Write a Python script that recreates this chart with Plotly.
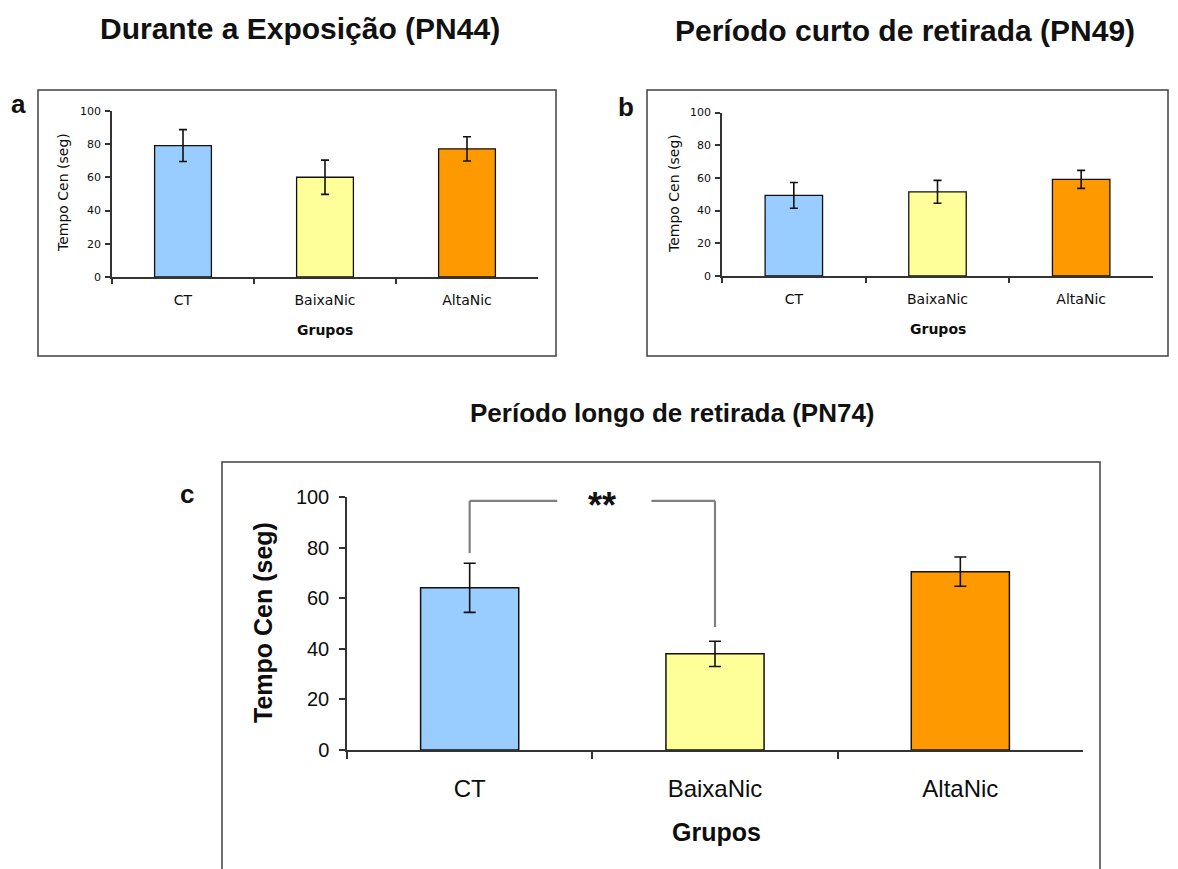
import plotly.graph_objects as go

W, H = 1178, 869

# ---- data ----
groups = ["CT", "BaixaNic", "AltaNic"]
bar_colors = ["#99CCFF", "#FFFF99", "#FF9900"]

pn44_mean = [79.2, 60.1, 77.2]
pn44_err = [9.6, 10.3, 7.3]

pn49_mean = [49.3, 51.5, 59.1]
pn49_err = [7.9, 7.0, 5.5]

pn74_mean = [64.1, 38.0, 70.5]
pn74_err = [9.7, 5.0, 5.8]

y_ticks = [0, 20, 40, 60, 80, 100]

# significance bracket CT vs BaixaNic (PN74)
sig_pair = (0, 1)
sig_level = 98.5
sig_drop = (77.8, 48.6)
sig_label = "**"

panel_titles = [
    "Durante a Exposição (PN44)",
    "Período curto de retirada (PN49)",
    "Período longo de retirada (PN74)",
]
panel_letters = ["a", "b", "c"]
y_title = "Tempo Cen (seg)"
x_title = "Grupos"


def px(x):
    return x / W


def py(y):
    return 1 - y / H


SMALL_FONT = "DejaVu Sans, Liberation Sans, Arial"
BIG_FONT = "Liberation Sans, Arial, sans-serif"
INK = "#0d0d0d"

fig = go.Figure()

panels = [
    # data, errors, axis suffix, x-domain px, y-domain px, small?
    (pn44_mean, pn44_err, "", (112, 538), (111, 277), True),
    (pn49_mean, pn49_err, "2", (722, 1153), (112.5, 276), True),
    (pn74_mean, pn74_err, "3", (347, 1083), (497, 750), False),
]

for mean, err, sfx, (xl, xr), (yt, yb), small in panels:
    fig.add_trace(go.Bar(
        x=groups, y=mean,
        width=0.4,
        marker=dict(color=bar_colors, line=dict(color="#111111", width=1.3 if small else 1.5)),
        error_y=dict(type="data", array=err, visible=True, color="#111111",
                     thickness=1.6, width=4 if small else 6),
        xaxis="x" + sfx, yaxis="y" + sfx,
        showlegend=False, hoverinfo="x+y",
    ))
    tick_font = dict(family=SMALL_FONT if small else BIG_FONT,
                     size=11 if small else 20, color=INK)
    cat_font = dict(family=SMALL_FONT if small else BIG_FONT,
                    size=14 if small else 24, color=INK)
    fig.update_layout(**{
        "xaxis" + sfx: dict(
            domain=[px(xl), px(xr)], anchor="y" + sfx, automargin=False,
            type="category", range=[-0.5, 2.5],
            tickson="boundaries", ticks="outside",
            ticklen=5 if small else 7, tickwidth=1.5, tickcolor="#333333",
            showline=True, linecolor="#333333", linewidth=1.5,
            showgrid=False, zeroline=False, fixedrange=True,
            tickfont=cat_font, ticklabelstandoff=9 if small else 16,
        ),
        "yaxis" + sfx: dict(
            domain=[py(yb), py(yt)], anchor="x" + sfx, automargin=False,
            range=[0, 100], tickvals=y_ticks,
            ticks="outside", ticklen=5 if small else 6, tickwidth=1.5,
            tickcolor="#333333",
            showline=True, linecolor="#333333", linewidth=1.5,
            showgrid=False, zeroline=False, fixedrange=True,
            tickfont=tick_font, ticklabelstandoff=2 if small else 6,
        ),
    })

# ---- panel frames ----
frames = [(38, 90, 556, 356), (647, 90, 1168, 356), (222, 462, 1100, 880)]
for x0, y0, x1, y1 in frames:
    fig.add_shape(type="rect", xref="paper", yref="paper",
                  x0=px(x0), x1=px(x1), y0=py(y1), y1=py(y0),
                  line=dict(color="#404040", width=1.5), fillcolor="rgba(0,0,0,0)")

annotations = []

# panel titles
for text, (cx, cy), size in zip(panel_titles, [(300, 29), (905, 31), (672, 413)], [30, 30, 26]):
    annotations.append(dict(text="<b>%s</b>" % text, x=px(cx), y=py(cy),
                            xref="paper", yref="paper", showarrow=False,
                            xanchor="center", yanchor="middle",
                            font=dict(family=BIG_FONT, size=size, color="#111111")))

# panel letters
for letter, (cx, cy) in zip(panel_letters, [(18, 104), (626, 107), (187, 494)]):
    annotations.append(dict(text="<b>%s</b>" % letter, x=px(cx), y=py(cy),
                            xref="paper", yref="paper", showarrow=False,
                            xanchor="center", yanchor="middle",
                            font=dict(family=BIG_FONT, size=26, color="#111111")))

# y-axis titles
for (cx, cy), fam, size in zip([(63, 193), (674, 194), (263, 623)],
                               [SMALL_FONT, SMALL_FONT, BIG_FONT], [14, 14, 25]):
    txt = y_title if size < 20 else "<b>%s</b>" % y_title
    annotations.append(dict(text=txt, x=px(cx), y=py(cy), textangle=-90,
                            xref="paper", yref="paper", showarrow=False,
                            xanchor="center", yanchor="middle",
                            font=dict(family=fam, size=size, color=INK)))

# x-axis titles
for (cx, cy), fam, size in zip([(325, 330), (938, 329), (716, 832)],
                               [SMALL_FONT, SMALL_FONT, BIG_FONT], [14, 14, 25]):
    annotations.append(dict(text="<b>%s</b>" % x_title, x=px(cx), y=py(cy),
                            xref="paper", yref="paper", showarrow=False,
                            xanchor="center", yanchor="middle",
                            font=dict(family=fam, size=size, color=INK)))

# significance bracket on PN74
i0, i1 = sig_pair
gap_l, gap_r = 0.357, 0.741
br = dict(color="#808080", width=2.2)
fig.add_shape(type="line", xref="x3", yref="y3", x0=i0, x1=i0, y0=sig_drop[0], y1=sig_level, line=br)
fig.add_shape(type="line", xref="x3", yref="y3", x0=i0, x1=gap_l, y0=sig_level, y1=sig_level, line=br)
fig.add_shape(type="line", xref="x3", yref="y3", x0=gap_r, x1=i1, y0=sig_level, y1=sig_level, line=br)
fig.add_shape(type="line", xref="x3", yref="y3", x0=i1, x1=i1, y0=sig_drop[1], y1=sig_level, line=br)
annotations.append(dict(text="<b>%s</b>" % sig_label, x=(gap_l + gap_r) / 2 - 0.01, y=sig_level,
                        xref="x3", yref="y3", showarrow=False,
                        xanchor="center", yanchor="middle", yshift=-5,
                        font=dict(family=BIG_FONT, size=36, color="#111111")))

fig.update_layout(
    width=W, height=H,
    margin=dict(l=0, r=0, t=0, b=0, pad=0, autoexpand=False),
    paper_bgcolor="white", plot_bgcolor="white",
    annotations=annotations,
    bargap=0.6,
)

fig.write_html("out.html")
